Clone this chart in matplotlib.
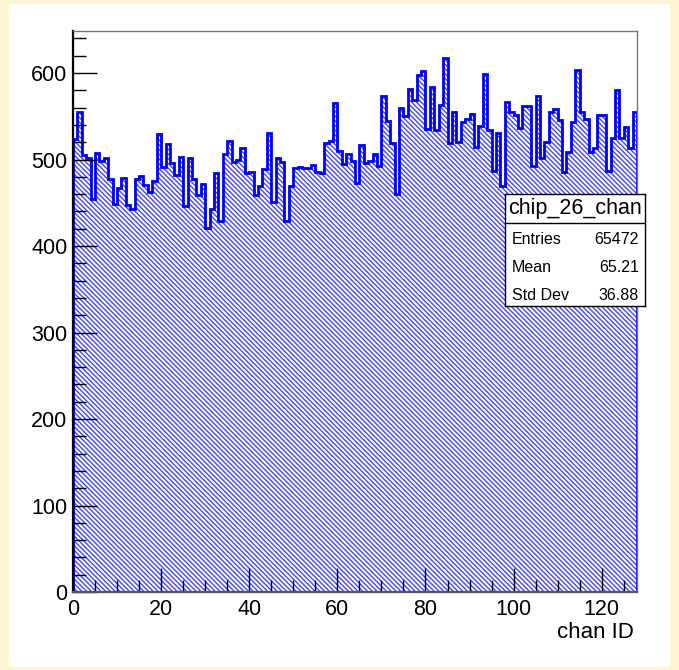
import matplotlib.pyplot as plt
import numpy as np

plt.rcParams['font.family'] = ['Liberation Sans', 'DejaVu Sans']
plt.rcParams['hatch.linewidth'] = 1.0

# hits per channel, chip 26
chan_edges = np.arange(0, 129)
counts = [524, 555, 505, 502, 454, 508, 498, 502, 477, 449,
          467, 479, 447, 443, 478, 481, 471, 462, 475, 529,
          491, 518, 496, 482, 503, 446, 502, 477, 459, 472,
          421, 443, 484, 429, 506, 521, 497, 499, 513, 484,
          486, 459, 470, 489, 531, 451, 502, 497, 429, 470,
          490, 491, 490, 490, 494, 486, 484, 519, 522, 565,
          510, 495, 506, 498, 473, 517, 496, 498, 506, 493,
          574, 545, 519, 460, 560, 550, 582, 569, 598, 602,
          535, 584, 534, 563, 617, 519, 555, 520, 544, 547,
          553, 515, 539, 599, 534, 487, 531, 470, 567, 555,
          552, 537, 562, 562, 493, 574, 502, 520, 555, 559,
          546, 486, 509, 544, 604, 555, 547, 509, 513, 551,
          551, 487, 525, 580, 525, 538, 513, 555]

stat_labels = ['Entries', 'Mean', 'Std Dev']
stat_values = ['65472', '65.21', '36.88']

fig = plt.figure(figsize=(6.79, 6.70), dpi=100, facecolor='#fff4d6')
fig.patches.append(plt.Rectangle((0.0133, 0.0045), 0.9735, 0.9896,
                                 transform=fig.transFigure, facecolor='white',
                                 edgecolor='none', zorder=-10))

ax = fig.add_axes([0.1075, 0.1164, 0.8306, 0.8378])
ax.stairs(counts, chan_edges, fill=True, hatch='\\' * 7, facecolor='white',
          edgecolor='#4646ff', linewidth=0)
ax.stairs(counts, chan_edges, color='#0000ff', linewidth=2)

ax.set_xlim(0, 128)
ax.set_ylim(0, 649)
ax.set_xticks(np.arange(0, 121, 20))
ax.set_xticks(np.arange(0, 129, 5), minor=True)
ax.set_yticks(np.arange(0, 601, 100))
ax.set_yticks(np.arange(0, 641, 20), minor=True)
ax.tick_params(which='both', direction='in', top=False, right=False,
               labelsize=15.5, width=1)
ax.tick_params(which='major', length=17)
ax.tick_params(which='minor', length=9)
ax.tick_params(axis='y', pad=4)
ax.tick_params(axis='x', pad=5)
ax.spines['left'].set_linewidth(1.6)
ax.spines['bottom'].set_linewidth(1.6)
ax.spines['bottom'].set_color('#555555')
for s in ('top', 'right'):
    ax.spines[s].set_color('#777777')
    ax.spines[s].set_linewidth(1)

fig.text(634 / 679, 1 - 632 / 670, 'chan ID', ha='right', va='center', fontsize=16)

# statistics box
box = fig.add_axes([505 / 679, 1 - 306 / 670, 140 / 679, 112 / 670])
box.set_xticks([])
box.set_yticks([])
for s in box.spines.values():
    s.set_linewidth(1)
box.axhline((306 - 223) / 112, color='black', linewidth=1)
box.text(0.5, (306 - 208.5) / 112, 'chip_26_chan', ha='center', va='center',
         fontsize=15.5)
for i, (lab, val) in enumerate(zip(stat_labels, stat_values)):
    yy = (306 - (239 + 28.5 * i)) / 112
    box.text(0.05, yy, lab, ha='left', va='center', fontsize=11.5)
    box.text(0.957, yy, val, ha='right', va='center', fontsize=11.5)

fig.savefig('out.png', dpi=100, facecolor=fig.get_facecolor())
